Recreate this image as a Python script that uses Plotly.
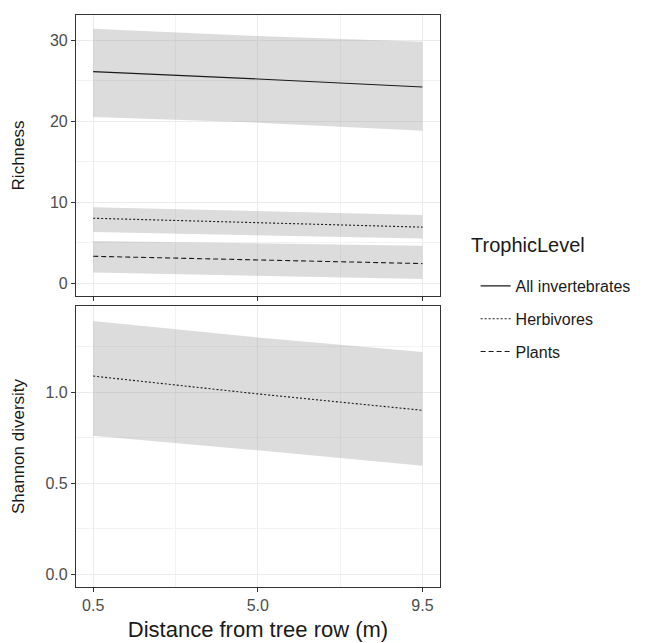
import plotly.graph_objects as go

distance = [0.5, 5.0, 9.5]

# Richness panel
all_inv_mean = [26.1, 25.2, 24.2]
all_inv_upper = [31.4, 30.5, 29.8]
all_inv_lower = [20.5, 19.8, 18.8]

herb_rich_mean = [8.0, 7.45, 6.9]
herb_rich_upper = [9.35, 8.85, 8.4]
herb_rich_lower = [6.3, 5.9, 5.5]

plants_mean = [3.3, 2.85, 2.4]
plants_upper = [5.2, 4.9, 4.6]
plants_lower = [1.3, 0.9, 0.5]

# Shannon panel
herb_shan_mean = [1.088, 0.99, 0.90]
herb_shan_upper = [1.39, 1.30, 1.22]
herb_shan_lower = [0.76, 0.68, 0.595]

series_names = ["All invertebrates", "Herbivores", "Plants"]
dashes = {"All invertebrates": "solid", "Herbivores": "2px,2px", "Plants": "5px,3px"}

RIB = "rgba(153,153,153,0.34)"
LINE = "#1a1a1a"
FONT = "Liberation Sans, Arial"

fig = go.Figure()

def ribbon(x, lo, hi, xa, ya):
    fig.add_trace(go.Scatter(x=x, y=lo, mode="lines", line=dict(width=0),
                             showlegend=False, hoverinfo="skip", xaxis=xa, yaxis=ya))
    fig.add_trace(go.Scatter(x=x, y=hi, mode="lines", line=dict(width=0),
                             fill="tonexty", fillcolor=RIB,
                             showlegend=False, hoverinfo="skip", xaxis=xa, yaxis=ya))

ribbon(distance, all_inv_lower, all_inv_upper, "x", "y")
ribbon(distance, herb_rich_lower, herb_rich_upper, "x", "y")
ribbon(distance, plants_lower, plants_upper, "x", "y")
ribbon(distance, herb_shan_lower, herb_shan_upper, "x2", "y2")

fig.add_trace(go.Scatter(x=distance, y=all_inv_mean, mode="lines", name=series_names[0],
                         line=dict(color=LINE, width=1.1, dash=dashes[series_names[0]]),
                         legendgroup="a", xaxis="x", yaxis="y"))
fig.add_trace(go.Scatter(x=distance, y=herb_rich_mean, mode="lines", name=series_names[1],
                         line=dict(color=LINE, width=1.1, dash=dashes[series_names[1]]),
                         legendgroup="b", xaxis="x", yaxis="y"))
fig.add_trace(go.Scatter(x=distance, y=plants_mean, mode="lines", name=series_names[2],
                         line=dict(color=LINE, width=1.1, dash=dashes[series_names[2]]),
                         legendgroup="c", xaxis="x", yaxis="y"))
fig.add_trace(go.Scatter(x=distance, y=herb_shan_mean, mode="lines", name=series_names[1],
                         line=dict(color=LINE, width=1.1, dash=dashes[series_names[1]]),
                         legendgroup="b", showlegend=False, xaxis="x2", yaxis="y2"))

xticks = [0.5, 5.0, 9.5]
xtext = ["0.5", "5.0", "9.5"]

axis_common = dict(showline=True, mirror=True, linecolor="#333333", linewidth=1.2,
                   ticks="outside", ticklen=4, tickcolor="#333333", tickwidth=1,
                   gridcolor="#ebebeb", gridwidth=1.1, zeroline=False,
                   tickfont=dict(family=FONT, size=16, color="#4d4d4d"))

fig.update_layout(
    width=645, height=643,
    margin=dict(l=0, r=0, t=0, b=0),
    paper_bgcolor="white", plot_bgcolor="white",
    font=dict(family=FONT, color="#000000"),
    xaxis=dict(domain=[0.1178, 0.6822], range=[0.03, 9.98], anchor="y",
               tickvals=xticks, ticktext=xtext, showticklabels=False,
               minor=dict(tickvals=[2.75, 7.25], showgrid=True, gridcolor="#f2f2f2", gridwidth=0.6, ticks=""),
               **axis_common),
    yaxis=dict(domain=[0.5397, 0.9767], range=[-1.6, 33.1], anchor="x",
               tickvals=[0, 10, 20, 30], ticktext=["0", "10", "20", "30"],
               minor=dict(tickvals=[5, 15, 25], showgrid=True, gridcolor="#f2f2f2", gridwidth=0.6, ticks=""),
               title=dict(text="Richness", font=dict(size=17, color="#1a1a1a"), standoff=20),
               **axis_common),
    xaxis2=dict(domain=[0.1178, 0.6822], range=[0.03, 9.98], anchor="y2",
                tickvals=xticks, ticktext=xtext,
                minor=dict(tickvals=[2.75, 7.25], showgrid=True, gridcolor="#f2f2f2", gridwidth=0.6, ticks=""),
                title=dict(text="Distance from tree row (m)", font=dict(size=22, color="#1a1a1a"), standoff=8),
                **axis_common),
    yaxis2=dict(domain=[0.0871, 0.5241], range=[-0.071, 1.473], anchor="x2",
                tickvals=[0.0, 0.5, 1.0], ticktext=["0.0", "0.5", "1.0"],
                minor=dict(tickvals=[0.25, 0.75, 1.25], showgrid=True, gridcolor="#f2f2f2", gridwidth=0.6, ticks=""),
                title=dict(text="Shannon diversity", font=dict(size=17, color="#1a1a1a"), standoff=16),
                **axis_common),
    legend=dict(x=0.7374, y=1 - 269 / 643, xanchor="left", yanchor="top",
                font=dict(size=16, color="#1a1a1a"),
                tracegroupgap=9, bgcolor="rgba(0,0,0,0)"),
    annotations=[dict(text="TrophicLevel", xref="paper", yref="paper",
                      x=469 / 645, y=1 - 245 / 643, xanchor="left", yanchor="middle",
                      showarrow=False, font=dict(size=20, color="#1a1a1a"))],
)

fig.write_html("out.html")
